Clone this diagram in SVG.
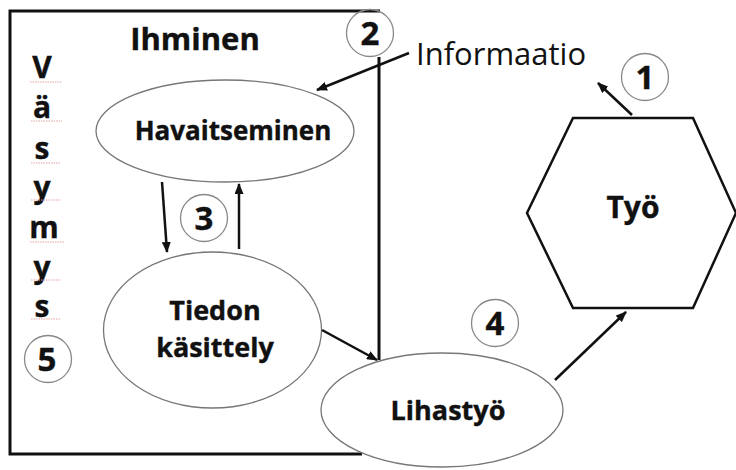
<svg xmlns="http://www.w3.org/2000/svg" width="736" height="470" viewBox="0 0 736 470">
  <defs>
    <marker id="ah" markerUnits="userSpaceOnUse" markerWidth="11" markerHeight="9" refX="10" refY="4.5" orient="auto">
      <path d="M0,0 L11,4.5 L0,9 z" fill="#111"/>
    </marker>
    <style>
      .frame { fill: none; stroke: #111; stroke-width: 3; }
      .ell { fill: #fff; stroke: #777; stroke-width: 1.3; }
      .hex { fill: #fff; stroke: #111; stroke-width: 2.5; stroke-linejoin: miter; }
      .num { fill: #fff; stroke: #888; stroke-width: 1.3; }
      .conn { fill: none; stroke: #111; stroke-width: 2.5; marker-end: url(#ah); }
      .b { font-family: "Open Sans", "Liberation Sans", sans-serif; font-weight: bold; fill: #111; text-anchor: middle; stroke: #111; stroke-width: 0.4; }
      .r { font-family: "Open Sans", "Liberation Sans", sans-serif; fill: #111; }
      .sq { stroke: #e3a4a4; stroke-width: 1; stroke-dasharray: 1.5 1; }
    </style>
  </defs>
  <rect width="736" height="470" fill="#fff"/>

  <g id="ihminen">
    <path class="frame" d="M380,11 H10 V454 H362 M379,57 V360"/>
    <text class="b" x="195" y="50" font-size="31">Ihminen</text>
  </g>

  <g id="vasymys">
    <text class="b" font-size="30" x="42" y="78">V</text>
    <text class="b" font-size="30" x="42" y="118">ä</text>
    <text class="b" font-size="30" x="42" y="159">s</text>
    <text class="b" font-size="30" x="42" y="198">y</text>
    <text class="b" font-size="30" x="44" y="238">m</text>
    <text class="b" font-size="30" x="42" y="278">y</text>
    <text class="b" font-size="30" x="42" y="317">s</text>
    <path class="sq" d="M30,82 H62 M31,121 H62 M31,163 H61 M31,200 H61 M30,242 H64 M31,280 H61 M31,319 H61"/>
  </g>

  <g id="havaitseminen">
    <ellipse class="ell" cx="225" cy="131" rx="129" ry="51"/>
    <text class="b" x="233" y="140" font-size="26">Havaitseminen</text>
  </g>

  <g id="tiedon">
    <ellipse class="ell" cx="212.5" cy="330" rx="109" ry="78"/>
    <text class="b" x="215" y="320" font-size="27">Tiedon</text>
    <text class="b" x="215" y="357" font-size="27">käsittely</text>
  </g>

  <g id="lihastyo">
    <ellipse class="ell" cx="442" cy="410" rx="121" ry="57"/>
    <text class="b" x="448" y="420" font-size="27">Lihastyö</text>
  </g>

  <g id="tyo">
    <polygon class="hex" points="573,118 693,118 736,213 693,308 573,308 527,213"/>
    <text class="b" x="633" y="218" font-size="30">Työ</text>
  </g>

  <g id="informaatio">
    <text class="r" x="416" y="65" font-size="31">Informaatio</text>
  </g>

  <g id="connectors">
    <line class="conn" x1="409" y1="53" x2="317" y2="90"/>
    <line class="conn" x1="632" y1="115" x2="598" y2="83"/>
    <line class="conn" x1="162" y1="182" x2="167" y2="252"/>
    <line class="conn" x1="239" y1="249" x2="239" y2="184"/>
    <line class="conn" x1="322" y1="330" x2="377" y2="360"/>
    <line class="conn" x1="555" y1="380" x2="626" y2="312"/>
  </g>

  <g id="n1">
    <circle class="num" cx="645" cy="77" r="23.5"/>
    <text class="b" x="645" y="89" font-size="33">1</text>
  </g>
  <g id="n2">
    <circle class="num" cx="370" cy="33" r="23.5" style="fill:none"/>
    <text class="b" x="370" y="45" font-size="33">2</text>
  </g>
  <g id="n3">
    <circle class="num" cx="204" cy="218" r="23.5"/>
    <text class="b" x="204" y="230" font-size="33">3</text>
  </g>
  <g id="n4">
    <circle class="num" cx="495" cy="323" r="23.5"/>
    <text class="b" x="495" y="335" font-size="33">4</text>
  </g>
  <g id="n5">
    <circle class="num" cx="48" cy="359" r="23.5"/>
    <text class="b" x="47" y="371" font-size="33">5</text>
  </g>
</svg>
